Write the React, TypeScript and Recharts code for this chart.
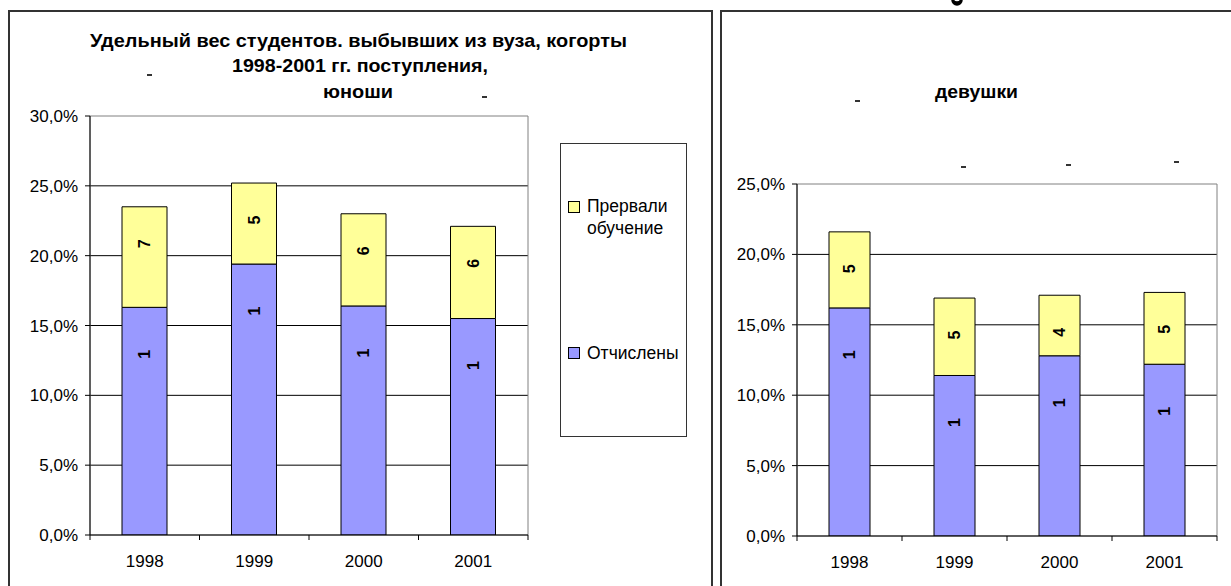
import { BarChart, Bar, XAxis, YAxis, CartesianGrid, ReferenceArea, LabelList } from 'recharts'

const years = ['1998', '1999', '2000', '2001']
const boysExpelled = [16.3, 19.4, 16.4, 15.5]
const boysDropped = [7.2, 5.8, 6.6, 6.6]
const girlsExpelled = [16.2, 11.4, 12.8, 12.2]
const girlsDropped = [5.4, 5.5, 4.3, 5.1]
const boysTicks = [0, 5, 10, 15, 20, 25, 30]
const girlsTicks = [0, 5, 10, 15, 20, 25]

const BLUE = '#9999FF'
const YELLOW = '#FFFF99'
const FONT = '"Liberation Sans", Arial, sans-serif'

const boysData = years.map((y, i) => ({ year: y, expelled: boysExpelled[i], dropped: boysDropped[i] }))
const girlsData = years.map((y, i) => ({ year: y, expelled: girlsExpelled[i], dropped: girlsDropped[i] }))

const pct = (v: number) => `${v.toFixed(1).replace('.', ',')}%`

function YearTick(props: any) {
  const { x, y, payload, index, band } = props
  const axisY = y - 7
  return (
    <g>
      {index === 0 && <line x1={x - band / 2} x2={x - band / 2} y1={axisY} y2={axisY + 5} stroke="#000" />}
      <line x1={x + band / 2} x2={x + band / 2} y1={axisY} y2={axisY + 5} stroke="#000" />
      <text x={x} y={y} dy={24.7} textAnchor="middle" fontSize={17} fontFamily={FONT} fill="#000">
        {payload.value}
      </text>
    </g>
  )
}

function rotatedLabel(offset: number) {
  return (props: any) => {
    const { x, y, width, value } = props
    return (
      <text
        transform={`translate(${x + width / 2},${y + offset}) rotate(-90)`}
        textAnchor="middle"
        dominantBaseline="central"
        fontSize={16}
        fontWeight="bold"
        fontFamily={FONT}
        fill="#000"
      >
        {String(value).charAt(0)}
      </text>
    )
  }
}

function Panel({ data, ticks, max, width, height, margin, barSize, band }: any) {
  return (
    <BarChart width={width} height={height} data={data} margin={margin} barSize={barSize}>
      <CartesianGrid vertical={false} stroke="#000" horizontalValues={ticks.slice(1, -1)} />
      <ReferenceArea y1={0} y2={max} stroke="#808080" fill="none" />
      <XAxis
        dataKey="year"
        height={30}
        tickSize={5}
        tickMargin={2}
        tickLine={false}
        axisLine={{ stroke: '#000' }}
        tick={<YearTick band={band} />}
        interval={0}
      />
      <YAxis
        width={60}
        domain={[0, max]}
        ticks={ticks}
        tickFormatter={pct}
        tickSize={5}
        tickMargin={7}
        axisLine={{ stroke: '#000' }}
        tickLine={{ stroke: '#000' }}
        tick={{ fontSize: 17, fill: '#000', fontFamily: FONT }}
        allowDataOverflow
      />
      <Bar dataKey="expelled" stackId="a" fill={BLUE} stroke="#000" strokeWidth={1} isAnimationActive={false}>
        <LabelList dataKey="expelled" content={rotatedLabel(47)} />
      </Bar>
      <Bar dataKey="dropped" stackId="a" fill={YELLOW} stroke="#000" strokeWidth={1} isAnimationActive={false}>
        <LabelList dataKey="dropped" content={rotatedLabel(37)} />
      </Bar>
    </BarChart>
  )
}

const marks = [
  [147, 74], [482, 96], [855, 100], [961, 166], [1066, 164], [1174, 161],
]

export default function App() {
  return (
    <div style={{ position: 'absolute', left: 0, top: 0, width: 1231, height: 586, background: '#fff', overflow: 'hidden', fontFamily: FONT }}>
      <div style={{ position: 'absolute', left: 8, top: 10, width: 701, height: 620, border: '2px solid #333' }} />
      <div style={{ position: 'absolute', left: 720, top: 10, width: 560, height: 620, border: '2px solid #333' }} />

      <div style={{ position: 'absolute', left: 0, top: 0 }}>
        <Panel
          data={boysData}
          ticks={boysTicks}
          max={30}
          width={720}
          height={586}
          margin={{ top: 116, right: 192, bottom: 21, left: 30 }}
          barSize={45}
          band={438 / 4}
        />
      </div>
      <div style={{ position: 'absolute', left: 720, top: 0 }}>
        <Panel
          data={girlsData}
          ticks={girlsTicks}
          max={25}
          width={511}
          height={586}
          margin={{ top: 184, right: 14, bottom: 20, left: 17 }}
          barSize={41}
          band={420 / 4}
        />
      </div>

      <div style={{ position: 'absolute', left: 560, top: 143, width: 125, height: 292, border: '1px solid #333', background: '#fff', fontSize: 17.5, color: '#000' }}>
        <div style={{ position: 'absolute', left: 7, top: 57, width: 10, height: 10, background: YELLOW, border: '1px solid #000' }} />
        <div style={{ position: 'absolute', left: 26, top: 51, lineHeight: '22px' }}>Прервали<br />обучение</div>
        <div style={{ position: 'absolute', left: 7, top: 203, width: 10, height: 10, background: BLUE, border: '1px solid #000' }} />
        <div style={{ position: 'absolute', left: 26, top: 198, lineHeight: '22px' }}>Отчислены</div>
      </div>

      <svg width={1231} height={586} style={{ position: 'absolute', left: 0, top: 0, pointerEvents: 'none' }}>
        <g fontFamily={FONT} fontWeight="bold" fontSize={19} fill="#000" textAnchor="middle">
          <text x={358.5} y={46.7} textLength={537} lengthAdjust="spacingAndGlyphs">Удельный вес студентов. выбывших из вуза, когорты</text>
          <text x={360} y={71.7} textLength={256} lengthAdjust="spacingAndGlyphs">1998-2001 гг. поступления,</text>
          <text x={358} y={98} textLength={70} lengthAdjust="spacingAndGlyphs">юноши</text>
          <text x={976.5} y={98.3} textLength={83} lengthAdjust="spacingAndGlyphs">девушки</text>
        </g>
        <path d="M952.5 -2 A 4.5 4.5 0 0 0 961.5 -2 L 961.5 0 A 4.5 4.5 0 0 1 952.5 0 Z" fill="none" stroke="#000" strokeWidth={2.5} />
        {marks.map(([x, y], i) => (
          <rect key={i} x={x} y={y} width={5} height={2} fill="#333" />
        ))}
      </svg>
    </div>
  )
}
